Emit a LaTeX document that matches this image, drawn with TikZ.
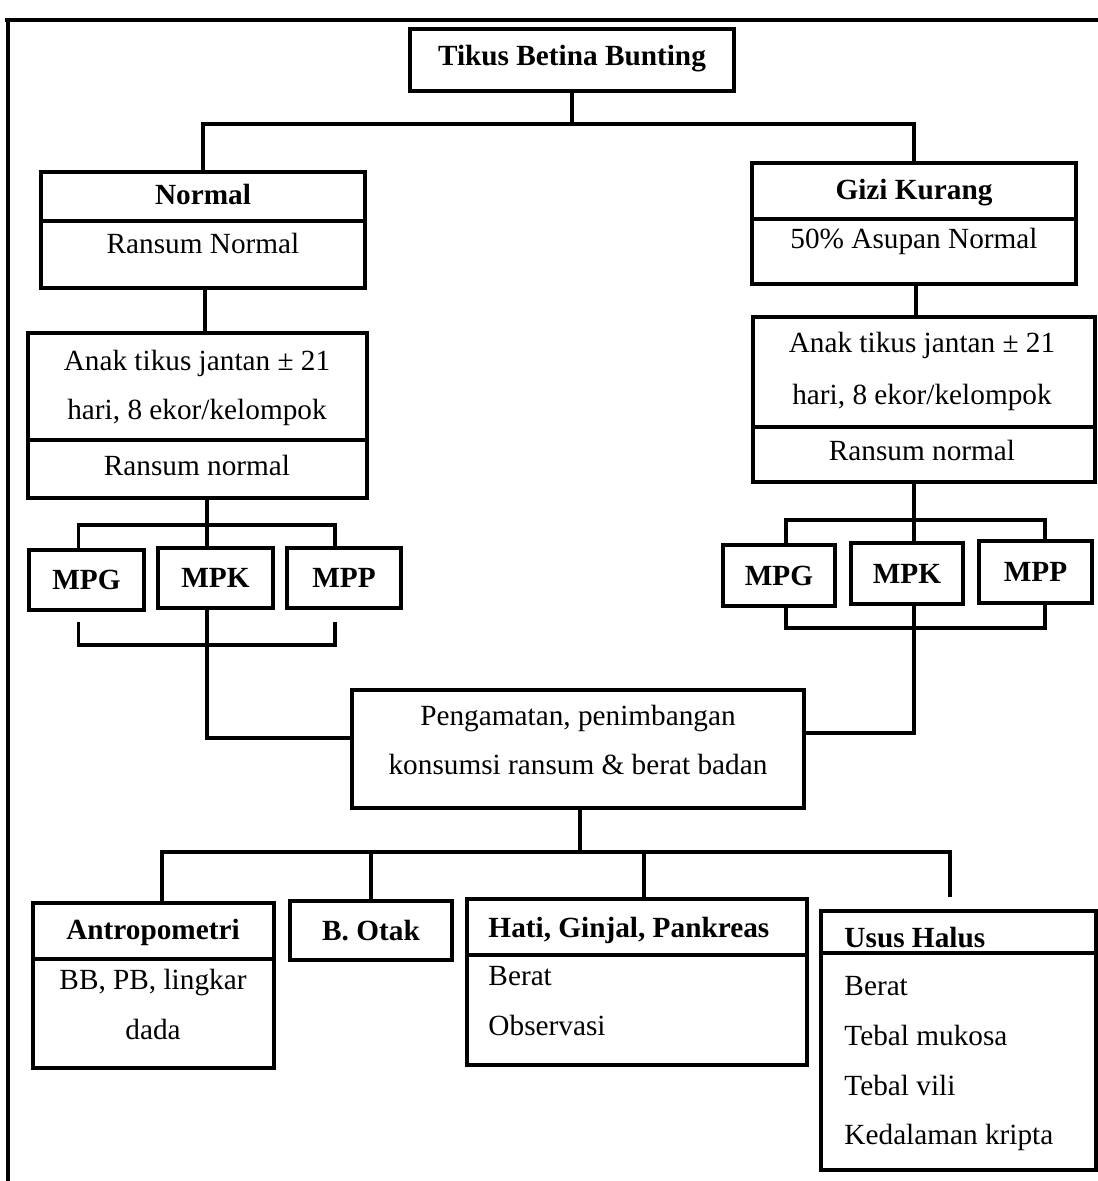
\documentclass[tikz,border=0pt]{standalone}
\usepackage{fontspec}
\setmainfont{Liberation Serif}
\usetikzlibrary{calc}
\newcommand{\skala}{0.41pt}
\tikzset{
	garis/.style={draw=black,line width=1.3pt},
	kotak/.style={draw=black,line width=1.4pt,inner sep=0pt,font=\fontsize{12}{14}\selectfont\bfseries},
	teks/.style={inner sep=0pt,text height=1.5ex,text depth=0.25ex,font=\fontsize{12}{14}\selectfont},
	judul/.style={teks,font=\fontsize{12}{14}\selectfont\bfseries},
}
\begin{document}
\begin{tikzpicture}[x=\skala,y=-\skala]
\useasboundingbox (0,0) rectangle (1098,1181);
%Rahmen
	\draw[garis] (5,20) -- (1098,20);
	\draw[garis] (8,20) -- (8,1181);
%Induk
	\node (tikus) at (572,60) [kotak,minimum width=324*\skala,minimum height=62*\skala] {};
	\node (tTikus) at (572,58) [judul] {Tikus Betina Bunting};
%Kelompok induk
	\node (normal) at (203,230) [kotak,minimum width=324*\skala,minimum height=116*\skala] {};
	\draw[garis] (normal.west |- 0,221) -- (normal.east |- 0,221);
	\node (tNormal) at (203,197) [judul] {Normal};
	\node (tRansumN) at (203,246) [teks] {Ransum Normal};
	\node (gizi) at (914,223.5) [kotak,minimum width=324*\skala,minimum height=121*\skala] {};
	\draw[garis] (gizi.west |- 0,219) -- (gizi.east |- 0,219);
	\node (tGizi) at (914,192) [judul] {Gizi Kurang};
	\node (tAsupan) at (914,241) [teks] {50\% Asupan Normal};
%Anak tikus
	\node (anakL) at (197.5,415.5) [kotak,minimum width=339*\skala,minimum height=165*\skala] {};
	\draw[garis] (anakL.west |- 0,440) -- (anakL.east |- 0,440);
	\node (tAnakL1) at (197,363) [teks] {Anak tikus jantan ± 21};
	\node (tAnakL2) at (197,412) [teks] {hari, 8 ekor/kelompok};
	\node (tAnakL3) at (197,468) [teks] {Ransum normal};
	\node (anakR) at (924,399.5) [kotak,minimum width=342*\skala,minimum height=165*\skala] {};
	\draw[garis] (anakR.west |- 0,427) -- (anakR.east |- 0,427);
	\node (tAnakR1) at (922,345) [teks] {Anak tikus jantan ± 21};
	\node (tAnakR2) at (922,397) [teks] {hari, 8 ekor/kelompok};
	\node (tAnakR3) at (922,453) [teks] {Ransum normal};
%Perlakuan
	\node (mpgL) at (86.5,580) [kotak,minimum width=115*\skala,minimum height=60*\skala] {MPG};
	\node (mpkL) at (215.5,578) [kotak,minimum width=115*\skala,minimum height=60*\skala] {MPK};
	\node (mppL) at (344,578) [kotak,minimum width=114*\skala,minimum height=60*\skala] {MPP};
	\node (mpgR) at (779,575.5) [kotak,minimum width=112*\skala,minimum height=61*\skala] {MPG};
	\node (mpkR) at (907,573.5) [kotak,minimum width=112*\skala,minimum height=61*\skala] {MPK};
	\node (mppR) at (1035.5,572) [kotak,minimum width=113*\skala,minimum height=62*\skala] {MPP};
%Pengamatan
	\node (pengamatan) at (578,749) [kotak,minimum width=452*\skala,minimum height=118*\skala] {};
	\node (tAmat1) at (578,718) [teks] {Pengamatan, penimbangan};
	\node (tAmat2) at (578,767) [teks] {konsumsi ransum \& berat badan};
%Organ
	\node (antropo) at (153.5,985.5) [kotak,minimum width=241*\skala,minimum height=165*\skala] {};
	\draw[garis] (antropo.west |- 0,959) -- (antropo.east |- 0,959);
	\node (tAntropo) at (153,932) [judul] {Antropometri};
	\node (tBB) at (153,982) [teks] {BB, PB, lingkar};
	\node (tDada) at (153,1032) [teks] {dada};
	\node (otak) at (371,930.5) [kotak,minimum width=162*\skala,minimum height=59*\skala] {B. Otak};
	\node (hati) at (637,982) [kotak,minimum width=340*\skala,minimum height=166*\skala] {};
	\draw[garis] (hati.west |- 0,955) -- (hati.east |- 0,955);
	\node (tHati) at (488,930) [judul,anchor=west] {Hati, Ginjal, Pankreas};
	\node (tBeratH) at (488,978) [teks,anchor=west] {Berat};
	\node (tObs) at (488,1028) [teks,anchor=west] {Observasi};
	\node (usus) at (958.5,1040.5) [kotak,minimum width=275*\skala,minimum height=259*\skala] {};
	\draw[garis] (usus.west |- 0,953) -- (usus.east |- 0,953);
	\node (tUsus) at (844,940) [judul,anchor=west] {Usus Halus};
	\node (tBeratU) at (844,988) [teks,anchor=west] {Berat};
	\node (tMukosa) at (844,1038) [teks,anchor=west] {Tebal mukosa};
	\node (tVili) at (844,1088) [teks,anchor=west] {Tebal vili};
	\node (tKripta) at (844,1137) [teks,anchor=west] {Kedalaman kripta};
%Verbindungen oben
	\coordinate (cabang) at (572,124);
	\draw[garis] (tikus.south) -- (cabang);
	\draw[garis] (normal.north) |- (cabang) -| (gizi.north);
	\draw[garis] ($(normal.south)+(2,0)$) -- ($(anakL.north)+(7.5,0)$);
	\draw[garis] ($(gizi.south)+(2,0)$) -- ($(anakR.north)+(-8,0)$);
%Klammern links
	\coordinate (kiriAtas) at (207,525);
	\coordinate (kiriBawah) at (207,645);
	\draw[garis] (anakL.south -| kiriAtas) -- (kiriAtas |- mpkL.north);
	\draw[garis] ($(mpgL.north)+(-8,0)$) |- (kiriAtas) -| ($(mppL.north)+(-9,0)$);
	\draw[garis] ($(mpgL.south)+(-8,10)$) |- (kiriBawah) -| ($(mppL.south)+(-9,12)$);
	\draw[garis] (mpkL.south -| kiriAtas) |- ($(pengamatan.west)+(0,-11)$);
%Klammern rechts
	\coordinate (kananAtas) at (914,520);
	\coordinate (kananBawah) at (914,628);
	\draw[garis] (anakR.south -| kananAtas) -- (kananAtas |- mpkR.north);
	\draw[garis] ($(mpgR.north)+(7,0)$) |- (kananAtas) -| ($(mppR.north)+(9.5,0)$);
	\draw[garis] ($(mpgR.south)+(7,0)$) |- (kananBawah) -| ($(mppR.south)+(9.5,0)$);
	\draw[garis] (mpkR.south -| kananAtas) |- ($(pengamatan.east)+(0,-16)$);
%Verbindungen unten
	\coordinate (cabangBawah) at (580,852);
	\draw[garis] (pengamatan.south -| cabangBawah) -- (cabangBawah);
	\draw[garis] ($(antropo.north)+(8.5,0)$) |- (cabangBawah) -| ($(usus.north)+(-8.5,-12)$);
	\draw[garis] (otak.north) -- (otak.north |- cabangBawah);
	\draw[garis] ($(hati.north)+(7,0)$) -- ++(0,-47);
\end{tikzpicture}
\end{document}
